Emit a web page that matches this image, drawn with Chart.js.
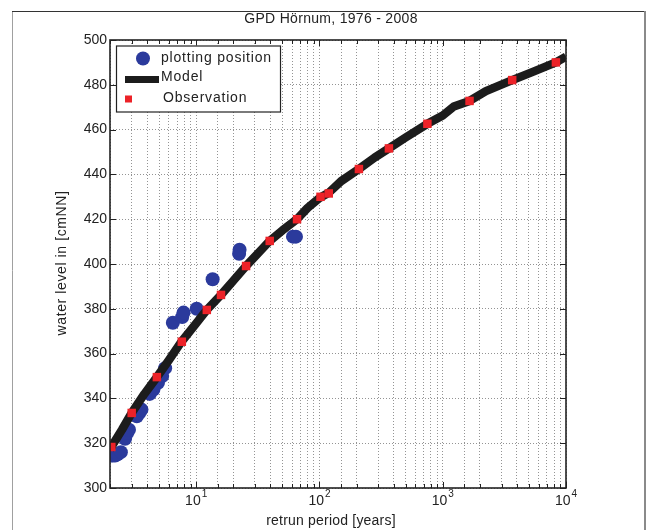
<!DOCTYPE html>
<html><head><meta charset="utf-8">
<script src="https://cdn.jsdelivr.net/npm/chart.js@4/dist/chart.umd.min.js"></script>
<style>html,body{margin:0;padding:0;background:#fff}#wrap{width:649px;height:530px}</style>
</head><body><div id="wrap"><canvas id="c" width="649" height="530"></canvas></div>
<script>
const titleText = 'GPD Hörnum, 1976 - 2008';
const xTitle = 'retrun period [years]';
const yTitle = 'water level in [cmNN]';
const legendLabels = ['plotting position', 'Model', 'Observation'];
const yMin = 300, yMax = 500, yStep = 20;
const xMin = 2, xMax = 10000;

// plotting positions (return period in years, water level in cmNN)
const plotPosT     = [2.02, 2.1, 2.2, 2.3, 2.45, 2.65, 2.75, 2.85, 3.3, 3.45, 3.6, 4.2, 4.5, 4.9, 5.3, 5.6, 6.47, 7.7, 7.9, 10.1, 13.6, 22.3, 22.5, 61, 64.5];
const plotPosLevel = [314.5, 314.5, 314.5, 315, 316, 322, 324.5, 326, 332, 333.5, 335, 342, 344, 347, 350, 353.5, 373.8, 376.3, 378.3, 380, 393.2, 404.6, 406.4, 412.2, 412.2];

// model curve
const modelT     = [2.0, 2.05, 2.5, 3.0, 3.8, 4.8, 6.0, 7.6, 10, 12.2, 15.9, 20, 25.4, 32, 39.5, 50, 65.8, 80, 100, 119, 150, 209, 280, 366, 500, 751, 1000, 1230, 1650, 2240, 3660, 5500, 8280, 10000];
const modelLevel = [317.3, 318.3, 326, 333.5, 342, 349.5, 357, 365.3, 373.5, 379.5, 386.2, 392.5, 399.1, 405, 410.3, 415, 420, 425, 429.5, 431.8, 437, 442.4, 447.5, 451.6, 456.5, 462.6, 466.3, 470.3, 472.8, 477.2, 482.1, 486, 490, 492.6];

// observations
const obsT     = [2.05, 3.0, 4.8, 7.65, 12.2, 15.9, 25.4, 39.5, 65.8, 102, 119, 209, 366, 751, 1650, 3660, 8280];
const obsLevel = [318.3, 333.5, 349.5, 365.3, 379.5, 386.2, 399.1, 410.3, 420, 430, 431.5, 442.4, 451.6, 462.6, 472.8, 482.1, 490];

const BLUE = '#2b3a9c', RED = '#ec2228', BLACK = '#1c1c1c', TXT = '#222';
const FAM = '"Liberation Sans", Arial, sans-serif';
const zip = (a, b) => a.map((v, i) => ({x: v, y: b[i]}));
const isPow10 = v => Math.abs(Math.log10(v) - Math.round(Math.log10(v))) < 1e-9;

function spaced(ctx, sp) { if ('letterSpacing' in ctx) ctx.letterSpacing = sp + 'px'; }

const decor = {
  id: 'decor',
  beforeDraw(chart) {
    const ctx = chart.ctx;
    ctx.save();
    ctx.fillStyle = '#fff';
    ctx.fillRect(0, 0, chart.width, chart.height);
    ctx.lineWidth = 1;
    ctx.strokeStyle = '#a0a0a0';
    ctx.beginPath(); ctx.moveTo(12.5, 11); ctx.lineTo(12.5, 530); ctx.stroke();
    ctx.strokeStyle = '#333';
    ctx.beginPath(); ctx.moveTo(12, 11.5); ctx.lineTo(645, 11.5); ctx.stroke();
    ctx.strokeStyle = '#8a8a8a'; ctx.lineWidth = 2;
    ctx.beginPath(); ctx.moveTo(645, 11); ctx.lineTo(645, 530); ctx.stroke();
    ctx.restore();
  },
  beforeDatasetsDraw(chart) {
    const ctx = chart.ctx, a = chart.chartArea, xs = chart.scales.x, ys = chart.scales.y;
    ctx.save();
    ctx.strokeStyle = TXT; ctx.lineWidth = 1;
    ctx.beginPath();
    xs.ticks.forEach(t => {
      const px = Math.round(xs.getPixelForValue(t.value)) + 0.5;
      const len = isPow10(t.value) ? 6 : 4;
      ctx.moveTo(px, a.bottom); ctx.lineTo(px, a.bottom - len);
      ctx.moveTo(px, a.top); ctx.lineTo(px, a.top + len);
    });
    ys.ticks.forEach(t => {
      const py = Math.round(ys.getPixelForValue(t.value)) + 0.5;
      ctx.moveTo(a.left, py); ctx.lineTo(a.left + 6, py);
      ctx.moveTo(a.right, py); ctx.lineTo(a.right - 6, py);
    });
    ctx.stroke();
    ctx.restore();
  },
  afterDatasetsDraw(chart) {
    const ctx = chart.ctx, a = chart.chartArea, xs = chart.scales.x;
    ctx.save();
    ctx.strokeStyle = TXT; ctx.lineWidth = 1.6;
    ctx.strokeRect(a.left, a.top, a.right - a.left, a.bottom - a.top);

    // legend inside plot
    const lx = a.left + 6, ly = a.top + 5.5, lw = 164, lh = 66;
    ctx.fillStyle = '#fff';
    ctx.fillRect(lx, ly, lw, lh);
    ctx.lineWidth = 1.2; ctx.strokeStyle = TXT;
    ctx.strokeRect(lx + 0.5, ly + 0.5, lw, lh);
    ctx.fillStyle = BLUE;
    ctx.beginPath(); ctx.arc(lx + 27, ly + 13, 7, 0, Math.PI * 2); ctx.fill();
    ctx.strokeStyle = BLACK; ctx.lineWidth = 7;
    ctx.beginPath(); ctx.moveTo(lx + 9, ly + 34); ctx.lineTo(lx + 43, ly + 34); ctx.stroke();
    ctx.fillStyle = RED;
    ctx.fillRect(lx + 9, ly + 50, 7, 7);
    ctx.fillStyle = TXT;
    ctx.font = '14px ' + FAM;
    spaced(ctx, 0.8);
    ctx.textBaseline = 'middle'; ctx.textAlign = 'left';
    ctx.fillText(legendLabels[0], lx + 45, ly + 13);
    ctx.fillText(legendLabels[1], lx + 45, ly + 32);
    ctx.fillText(legendLabels[2], lx + 47, ly + 53);
    spaced(ctx, 0);

    // x tick labels 10^n
    xs.ticks.forEach(t => {
      if (!isPow10(t.value)) return;
      const px = xs.getPixelForValue(t.value);
      const base = '10', ex = String(Math.round(Math.log10(t.value)));
      ctx.font = '14px ' + FAM;
      const wb = ctx.measureText(base).width;
      ctx.font = '10px ' + FAM;
      const we = ctx.measureText(ex).width;
      const x0 = px - (wb + we + 1) / 2;
      ctx.textAlign = 'left'; ctx.textBaseline = 'middle';
      ctx.font = '14px ' + FAM;
      ctx.fillText(base, x0, a.bottom + 13);
      ctx.font = '10px ' + FAM;
      ctx.fillText(ex, x0 + wb + 1, a.bottom + 6);
    });

    // titles
    ctx.textAlign = 'center'; ctx.textBaseline = 'middle';
    ctx.font = '14px ' + FAM;
    spaced(ctx, 0.3);
    ctx.fillText(titleText, 331, 19);
    spaced(ctx, 0.2);
    ctx.fillText(xTitle, 331, 521);
    spaced(ctx, 0.6);
    ctx.translate(62, 263); ctx.rotate(-Math.PI / 2);
    ctx.fillText(yTitle, 0, 0);
    ctx.restore();
  }
};

new Chart(document.getElementById('c'), {
  type: 'scatter',
  data: {
    datasets: [
      {label: legendLabels[2], data: zip(obsT, obsLevel), pointStyle: 'rect', pointRadius: 6, pointHoverRadius: 6,
       backgroundColor: RED, borderColor: RED, borderWidth: 0, showLine: false},
      {label: legendLabels[1], data: zip(modelT, modelLevel), showLine: true, pointRadius: 0, borderColor: BLACK,
       borderWidth: 8.5, borderJoinStyle: 'round', borderCapStyle: 'butt', tension: 0},
      {label: legendLabels[0], data: zip(plotPosT, plotPosLevel), pointStyle: 'circle', pointRadius: 7, pointHoverRadius: 7,
       backgroundColor: BLUE, borderColor: BLUE, borderWidth: 0, showLine: false}
    ]
  },
  options: {
    responsive: false, animation: false, devicePixelRatio: 1,
    layout: {padding: {top: 40, left: 0, right: 83, bottom: 0}},
    plugins: {legend: {display: false}, tooltip: {enabled: false}, title: {display: false}},
    scales: {
      x: {
        type: 'logarithmic', min: xMin, max: xMax,
        afterFit: s => { s.height = 42; },
        grid: {color: 'rgba(0,0,0,0.42)', lineWidth: 1, drawTicks: false},
        border: {display: false, dash: [1, 2]},
        ticks: {autoSkip: false, maxRotation: 0, padding: 4, color: TXT, font: {family: FAM, size: 14}, callback: () => ''}
      },
      y: {
        min: yMin, max: yMax,
        afterFit: s => { s.width = 110; },
        grid: {color: 'rgba(0,0,0,0.42)', lineWidth: 1, drawTicks: false},
        border: {display: false, dash: [1, 2]},
        ticks: {stepSize: yStep, padding: 3, color: TXT, font: {family: FAM, size: 14}}
      }
    }
  },
  plugins: [decor]
});
</script>
</body></html>
